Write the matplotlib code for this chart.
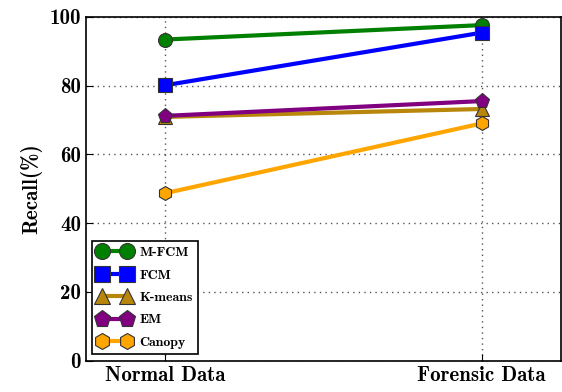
import matplotlib
matplotlib.use("Agg")
import matplotlib.pyplot as plt

plt.rcParams['font.family'] = ['cmb10', 'DejaVu Serif']
plt.rcParams['axes.unicode_minus'] = False

datasets = ["Normal Data", "Forensic Data"]
mfcm = [93.4, 97.6]
fcm = [80.1, 95.4]
kmeans = [70.9, 73.2]
em = [71.2, 75.5]
canopy = [48.7, 69.0]

series = [
    ("M-FCM", mfcm, "green", "o", 10),
    ("FCM", fcm, "blue", "s", 10),
    ("K-means", kmeans, "darkgoldenrod", "^", 10),
    ("EM", em, "purple", "p", 11),
    ("Canopy", canopy, "orange", "h", 10),
]

fig, ax = plt.subplots(figsize=(5.62, 3.92), dpi=100)
x = range(len(datasets))
for name, vals, color, marker, ms in series:
    ax.plot(x, vals, color=color, marker=marker, markersize=ms, linewidth=3,
            markeredgecolor="#333333", markeredgewidth=0.8, label=name)

ax.set_xlim(-0.25, 1.25)
ax.set_ylim(0, 100)
ax.set_xticks(list(x))
ax.set_xticklabels(datasets, fontsize=15)
ax.set_yticks([0, 20, 40, 60, 80, 100])
ax.tick_params(axis='y', labelsize=15)
ax.tick_params(direction='in', length=5)
ax.set_ylabel("Recall(%)", fontsize=15, labelpad=5)
ax.grid(True, linestyle=(0, (1, 3)), color='#555555', linewidth=1)
for s in ax.spines.values():
    s.set_linewidth(1.2)

leg = ax.legend(loc='lower left', fontsize=10, fancybox=False, edgecolor='black',
                framealpha=1, numpoints=2, handlelength=2.4, markerscale=1.15,
                labelspacing=0.7, borderaxespad=0.45, borderpad=0.4,
                handletextpad=0.6)
leg.get_frame().set_linewidth(1.2)

fig.subplots_adjust(left=0.153, right=0.998, top=0.957, bottom=0.08)
fig.savefig("out.png", dpi=100)
